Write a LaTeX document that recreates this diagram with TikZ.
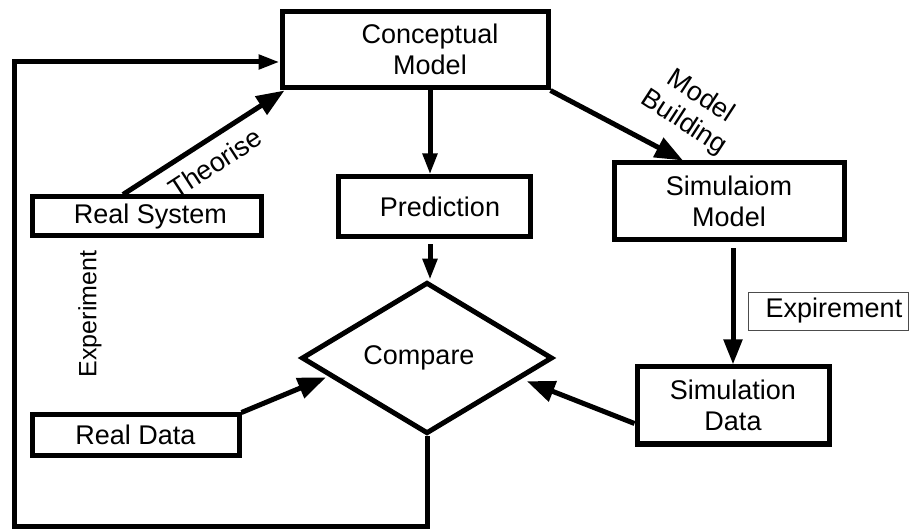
\documentclass[tikz,border=0pt]{standalone}
\usepackage{fontspec}
\setmainfont{Liberation Sans}
\usetikzlibrary{arrows.meta,shapes.geometric,calc}
\begin{document}
\begin{tikzpicture}[x=1pt,y=-1pt,
  txt/.style={inner sep=0pt, align=center, font=\fontsize{27}{31}\selectfont},
  box/.style={txt, draw, line width=5pt},
  lbl/.style={txt},
  arr/.style={line width=5pt, -{Triangle[length=28pt,width=21pt]}},
  arrs/.style={line width=5pt, -{Triangle[length=21pt,width=14pt]}},
  arrm/.style={line width=5pt, -{Triangle[length=25pt,width=18pt]}}
]
\useasboundingbox (0,0) rectangle (911,529);
% boxes
\node[box, minimum width=266, minimum height=76] (cm) at (415,50) {};
\node[txt] (cmt) at (430,49) {Conceptual\\Model};
\node[box, minimum width=229, minimum height=39] (rs) at (146.5,216.5) {\hspace{8pt}Real System};
\node[box, minimum width=192, minimum height=60] (pred) at (434,207) {\hspace{12pt}Prediction};
\node[box, minimum width=230, minimum height=77] (sim) at (729,201.5) {Simulaiom\\Model};
\node[box, minimum width=192, minimum height=77] (simd) at (733,405.5) {Simulation\\Data};
\node[box, minimum width=207, minimum height=40] (rd) at (135.5,435) {Real Data};
\node[txt, draw, diamond, line width=5pt, minimum width=251, minimum height=111] (cmp) at (427,358) {Compare\hspace{16pt}};
\node[txt, draw=black!70, line width=0.8pt, minimum width=160, minimum height=38] (exp) at (828,311) {\hspace{12pt}Expirement};
% labels
\node[lbl, rotate=33] (th) at (215,163) {Theorise};
\node[lbl, rotate=-33] (mb) at (692,110) {Model\\Building};
\node[lbl, rotate=90, font=\fontsize{25}{29}\selectfont] (ex) at (90,314) {Experiment};
% loop
\coordinate (lb) at (14,526);
\coordinate (lt) at (14,62);
\draw[arrs] (cmp.south) |- (lb) -- (lt) -- (lt -| cm.west);
% connectors
\draw[arr] ([xshift=-23.5]rs.north) -- ([xshift=5]cm.south west);
\draw[arr] (cm.south east) -- ([xshift=-46]sim.north);
\draw[arrs] ([xshift=3]cmp.north |- cm.south) -- ([xshift=3]cmp.north |- pred.north);
\draw[arrs, shorten <=5pt] ([xshift=3]cmp.north |- pred.south) -- ([xshift=3]cmp.north);
\draw[arrm, shorten <=6pt] (simd.north |- sim.south) -- (simd.north);
\draw[arr] (rd.north east) -- ($(cmp.west)!0.21!(cmp.south)+(0,3)$);
\draw[arr] ([yshift=-18pt]simd.west) -- ($(cmp.east)!0.22!(cmp.south)+(0,6)$);
\end{tikzpicture}
\end{document}
